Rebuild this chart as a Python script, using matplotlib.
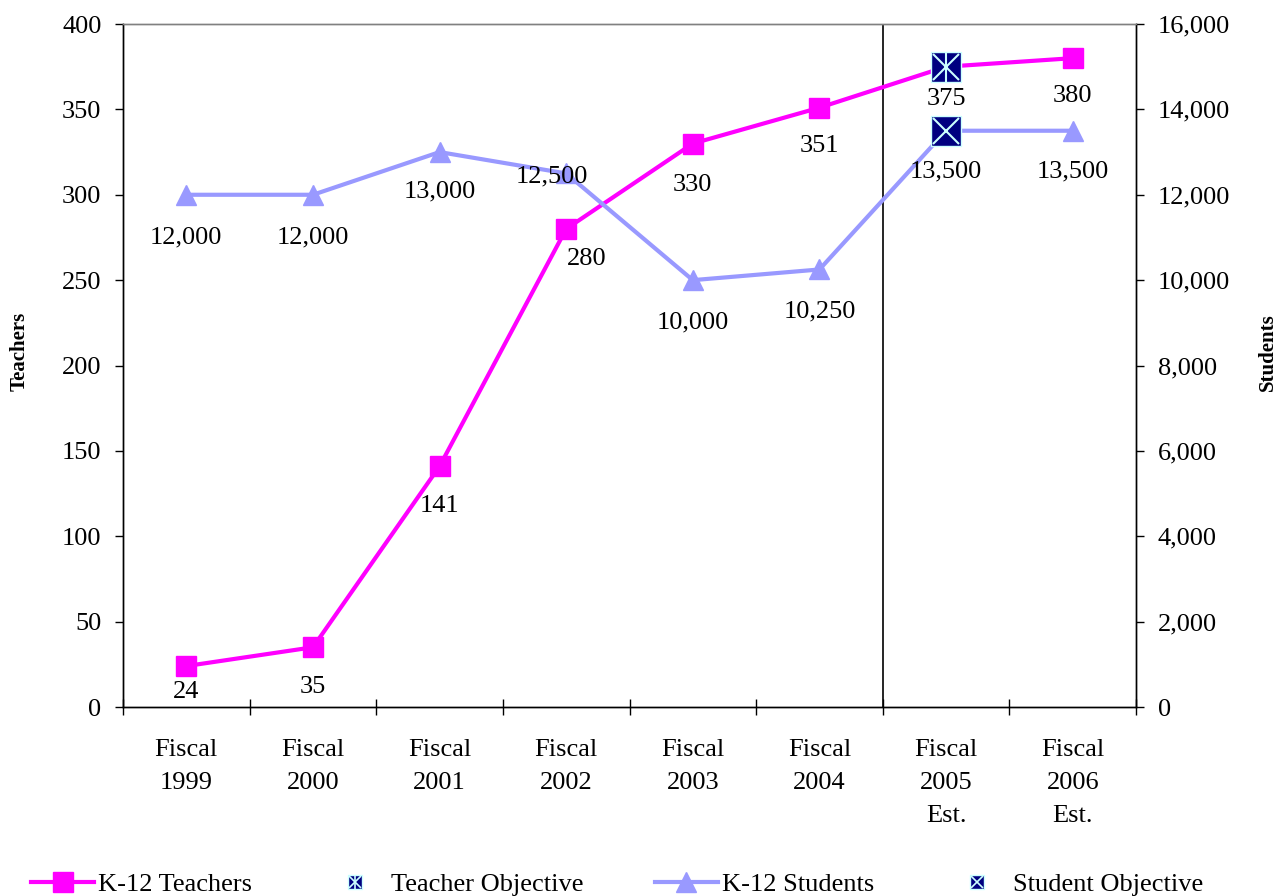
import numpy as np
import matplotlib.pyplot as plt
from matplotlib.lines import Line2D
from matplotlib.legend_handler import HandlerTuple

plt.rcParams['font.family'] = ['Liberation Serif', 'DejaVu Serif']

years = ["Fiscal\n1999", "Fiscal\n2000", "Fiscal\n2001", "Fiscal\n2002",
         "Fiscal\n2003", "Fiscal\n2004", "Fiscal\n2005\nEst.", "Fiscal\n2006\nEst."]
teachers = [24, 35, 141, 280, 330, 351, 375, 380]
students = [12000, 12000, 13000, 12500, 10000, 10250, 13500, 13500]
teacher_obj = 375      # objective for fiscal 2005
student_obj = 13500
obj_idx = 6

# label offsets in points (dx, dy)
t_off = [(0, -18.5), (0, -28.5), (0, -28.5), (15, -21.5), (0, -29.5), (0, -27.5), (0, -23.5), (0, -27.5)]
s_off = [(0, -30.5), (0, -30.5), (0, -28.5), (-10, -2), (0, -30.5), (0, -30.5), (0, -29), (0, -29)]

x = np.arange(len(years))
magenta = '#FF00FF'
lilac = '#9999FF'
navy = '#000080'
cyan = '#CCFFFF'
fs = 19

fig = plt.figure(figsize=(12.8, 8.96), dpi=100)
ax = fig.add_axes([0.0961, 0.2109, 0.7914, 0.7623])
ax2 = ax.twinx()

ax.plot(x, teachers, color=magenta, lw=3, marker='s', ms=14.5, zorder=3)
ax2.plot(x, students, color=lilac, lw=3, marker='^', ms=15, zorder=3)

# objective markers
ax.plot(obj_idx, teacher_obj, ls='none', marker='s', ms=22, mfc=navy, mec=cyan, mew=1, zorder=5)
ax.plot(obj_idx, teacher_obj, ls='none', marker='x', ms=19, mec=cyan, mew=1.5, zorder=6)
ax.plot(obj_idx, teacher_obj, ls='none', marker='|', ms=22, mec=cyan, mew=1.5, zorder=6)
ax2.plot(obj_idx, student_obj, ls='none', marker='s', ms=22, mfc=navy, mec=cyan, mew=1, zorder=5)
ax2.plot(obj_idx, student_obj, ls='none', marker='x', ms=19, mec=cyan, mew=1.5, zorder=6)

for i, v in enumerate(teachers):
    ax.annotate(f"{v:,}", (x[i], v), xytext=t_off[i], textcoords='offset points',
                ha='center', va='center', fontsize=fs, zorder=7)
for i, v in enumerate(students):
    ax2.annotate(f"{v:,}", (x[i], v), xytext=s_off[i], textcoords='offset points',
                 ha='center', va='center', fontsize=fs, zorder=7)

ax.axvline(5.5, color='black', lw=1.2)

ax.set_xlim(-0.5, 7.5)
ax.set_ylim(0, 400)
ax2.set_ylim(0, 16000)
ax.set_yticks(np.arange(0, 401, 50))
ax2.set_yticks(np.arange(0, 16001, 2000))
ax2.set_yticklabels([f"{v:,}" for v in range(0, 16001, 2000)])

ax.set_xticks(x)
ax.set_xticklabels(years, fontsize=fs, linespacing=1.65)
ax.tick_params(axis='x', length=0, pad=23)
ax.set_xticks(np.arange(-0.5, 8, 1), minor=True)
ax.tick_params(axis='x', which='minor', length=11.5, direction='inout', width=1)
ax.tick_params(axis='y', labelsize=fs, length=6, width=1, pad=9.5)
ax2.tick_params(axis='y', labelsize=fs, length=6, width=1, pad=9.5)

ax.set_ylabel("Teachers", fontsize=15, fontweight='bold')
ax2.set_ylabel("Students", fontsize=15, fontweight='bold')
ax.yaxis.set_label_coords(-0.0918, 0.52)
ax2.yaxis.set_label_coords(1.1204, 0.52)

for a in (ax, ax2):
    for s in a.spines.values():
        s.set_linewidth(1)
    a.spines['top'].set_color('#808080')

h1 = Line2D([], [], color=magenta, lw=3, marker='s', ms=14.5)
h2 = (Line2D([], [], ls='none', marker='s', ms=10.5, mfc=navy, mec=cyan),
      Line2D([], [], ls='none', marker='x', ms=8, mec=cyan, mew=1.2),
      Line2D([], [], ls='none', marker='|', ms=10.5, mec=cyan, mew=1.2))
h3 = Line2D([], [], color=lilac, lw=3, marker='^', ms=15)
h4 = (Line2D([], [], ls='none', marker='s', ms=10.5, mfc=navy, mec=cyan),
      Line2D([], [], ls='none', marker='x', ms=8, mec=cyan, mew=1.2))
fig.legend([h1, h2, h3, h4],
           ["K-12 Teachers", "Teacher Objective", "K-12 Students", "Student Objective"],
           handler_map={tuple: HandlerTuple(ndivide=1, pad=0)},
           loc='lower center', bbox_to_anchor=(0.482, -0.021), ncol=4, frameon=False,
           fontsize=fs, handlelength=2.4, handletextpad=0.15, columnspacing=2.7,
           borderaxespad=0.3)

fig.savefig("out.png", dpi=100)
